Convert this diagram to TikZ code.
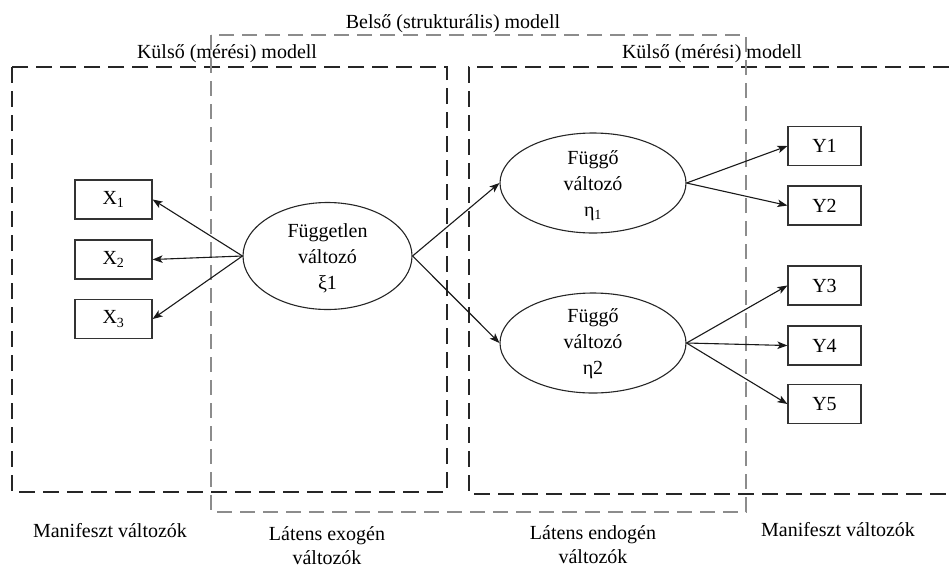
\documentclass[tikz,border=0pt]{standalone}
\usepackage{fontspec}
\setmainfont{Liberation Serif}
\usetikzlibrary{shapes.geometric,arrows.meta}

\tikzset{
  manifest/.style={rectangle, draw=black!80, line width=1.2pt, fill=white,
    minimum width=#1, minimum height=39pt, inner sep=0pt,
    font=\fontsize{20}{24}\selectfont},
  manifest/.default=77pt,
  latent/.style={ellipse, draw=black!85, line width=1.1pt, inner sep=0pt},
  inlabel/.style={align=center, inner sep=0pt,
    font=\fontsize{20}{26}\selectfont},
  caption/.style={align=center, inner sep=0pt,
    font=\fontsize{20}{24}\selectfont},
  arr/.style={-{Stealth[length=10pt,width=7.5pt,inset=2.5pt]}, line width=1.1pt, black!90},
  outerbox/.style={black!85, line width=1.9pt, dash pattern=on 16pt off 8pt},
  innerbox/.style={black!45, line width=1.3pt, dash pattern=on 15pt off 8pt},
}

\begin{document}
\begin{tikzpicture}[x=1pt,y=-1pt]
\useasboundingbox (0,0) rectangle (949,568);

% measurement (outer) and structural (inner) model frames
\draw[outerbox] (12,67) rectangle (447,492);
\draw[outerbox] (949,67) -- (469,67) -- (469,494) -- (949,494);
\draw[innerbox] (211,35) rectangle (746,512);

% frame titles
\node[caption, anchor=base] (tin) at (453,28) {Belső (strukturális) modell};
\node[caption, anchor=base] (tl) at (227,58) {Külső (mérési) modell};
\node[caption, anchor=base] (tr) at (712,58) {Külső (mérési) modell};

% manifest indicators
\node[manifest] (x1) at (113.5,199.5) {X\textsubscript{1}};
\node[manifest] (x2) at (113.5,259.5) {X\textsubscript{2}};
\node[manifest] (x3) at (113.5,319) {X\textsubscript{3}};

\node[manifest=73pt] (y1) at (824.5,146) {Y1};
\node[manifest=73pt] (y2) at (824.5,205.5) {Y2};
\node[manifest=73pt] (y3) at (824.5,285.5) {Y3};
\node[manifest=73pt] (y4) at (824.5,345.5) {Y4};
\node[manifest=73pt] (y5) at (824.5,404) {Y5};

% latent variables
\node[latent, minimum width=169pt, minimum height=107pt] (xi) at (327.5,256) {};
\node[inlabel] (xit) at (327.5,258) {Független\\változó\\ξ1};

\node[latent, minimum width=186pt, minimum height=100pt] (eta1) at (593,183) {};
\node[inlabel] (eta1t) at (593,186) {Függő\\változó\\η\textsubscript{1}};

\node[latent, minimum width=186pt, minimum height=100pt] (eta2) at (593,343) {};
\node[inlabel] (eta2t) at (593,344) {Függő\\változó\\η2};

% paths
\draw[arr] (xi.west) -- (x1.east);
\draw[arr] (xi.west) -- (x2.east);
\draw[arr] (xi.west) -- (x3.east);
\draw[arr] (xi.east) -- (eta1.west);
\draw[arr] (xi.east) -- (eta2.west);
\draw[arr] (eta1.east) -- (y1.west);
\draw[arr] (eta1.east) -- (y2.west);
\draw[arr] (eta2.east) -- (y3.west);
\draw[arr] (eta2.east) -- (y4.west);
\draw[arr] (eta2.east) -- (y5.west);

% column captions
\node[caption] (c1) at (110,531) {Manifeszt változók};
\node[caption] (c2) at (327,546) {Látens exogén\\változók};
\node[caption] (c3) at (593,545) {Látens endogén\\változók};
\node[caption] (c4) at (838,530) {Manifeszt változók};
\end{tikzpicture}
\end{document}
